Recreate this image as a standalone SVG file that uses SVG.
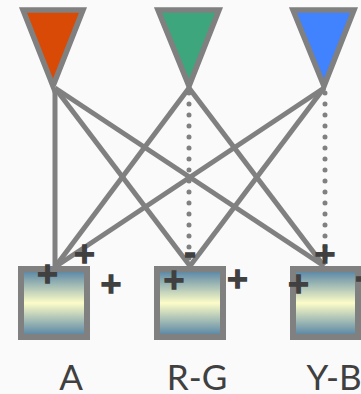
<svg xmlns="http://www.w3.org/2000/svg" width="361" height="394" viewBox="0 0 361 394">
<defs>
<linearGradient id="g" x1="0" y1="0" x2="0" y2="1">
<stop offset="0" stop-color="#4f7fa3"/>
<stop offset="0.5" stop-color="#fcfcc8"/>
<stop offset="1" stop-color="#4f7fa3"/>
</linearGradient>
<style>
.tri{stroke:#808080;stroke-width:5.5;stroke-linejoin:miter}
.box{fill:url(#g);stroke:#808080;stroke-width:6}
.ln{stroke:#808080;stroke-width:5;fill:none}
.dot{stroke:#808080;stroke-width:5;stroke-linecap:round;stroke-dasharray:0 11;fill:none}
.sg{font-family:"DejaVu Sans",sans-serif;font-weight:bold;font-size:28px;fill:#404040;stroke:#404040;stroke-width:1.6;text-anchor:middle}
.lb{font-family:Lato,"DejaVu Sans",sans-serif;font-size:35px;fill:#404040;text-anchor:middle}
</style>
</defs>
<rect width="361" height="394" fill="#fafafa"/>
<g id="connectors">
<line class="ln" x1="55" y1="88" x2="55" y2="267"/>
<line class="ln" x1="55" y1="88" x2="190" y2="266"/>
<line class="ln" x1="55" y1="88" x2="324" y2="266"/>
<line class="ln" x1="189" y1="88" x2="55" y2="267"/>
<line class="ln" x1="189" y1="88" x2="324" y2="266"/>
<line class="ln" x1="324" y1="88" x2="55" y2="267"/>
<line class="ln" x1="324" y1="88" x2="190" y2="266"/>
<line class="dot" x1="189" y1="93" x2="189" y2="262"/>
<line class="dot" x1="325" y1="93" x2="325" y2="262"/>
</g>
<g id="red"><polygon class="tri" fill="#d84a05" points="23,10 83,10 53,86"/></g>
<g id="green"><polygon class="tri" fill="#3da67c" points="158,10 219,10 189,86"/></g>
<g id="blue"><polygon class="tri" fill="#4182ff" points="293,10 354,10 324,86"/></g>
<g id="boxA"><rect class="box" x="21" y="269" width="66" height="68"/>
<text class="sg" x="47.5" y="283">+</text><text class="sg" x="84.5" y="263">+</text><text class="sg" x="111" y="293">+</text>
<text class="lb" x="71" y="390">A</text></g>
<g id="boxRG"><rect class="box" x="157" y="269" width="66" height="68"/>
<text class="sg" x="190" y="263">-</text><text class="sg" x="174" y="289">+</text><text class="sg" x="237.5" y="288">+</text>
<text class="lb" x="197" y="390">R-G</text></g>
<g id="boxYB"><rect class="box" x="293" y="269" width="65" height="68"/>
<text class="sg" x="325" y="263">+</text><text class="sg" x="298.5" y="293">+</text><text class="sg" x="361" y="287">-</text>
<text class="lb" x="334" y="390">Y-B</text></g>
</svg>
